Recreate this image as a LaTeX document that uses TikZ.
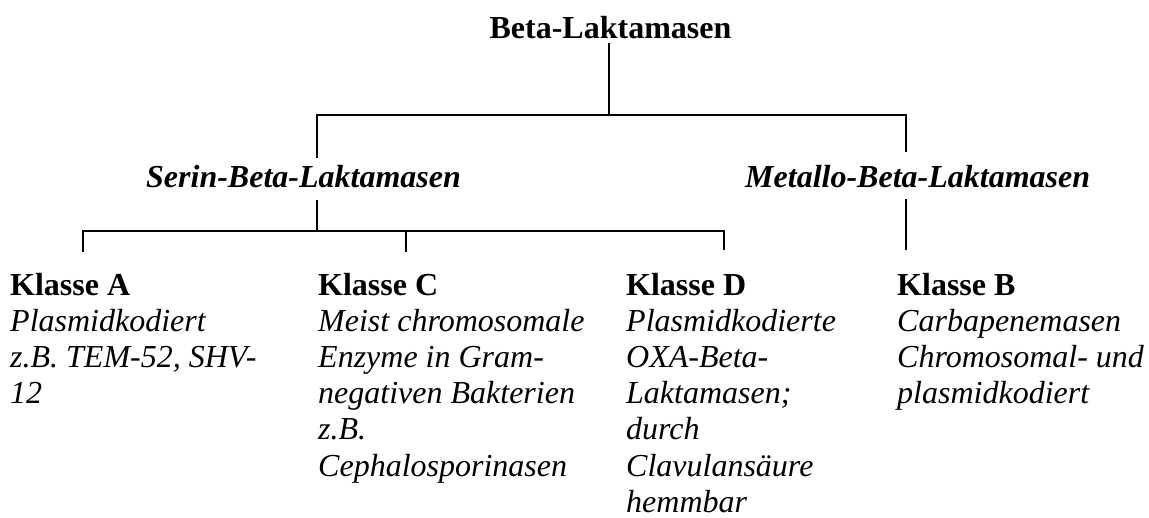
\documentclass[tikz,border=0pt]{standalone}
\usepackage{fontspec}
\setmainfont{Liberation Serif}
\newcommand\dfont{\fontsize{32}{36.2}\selectfont}
\newcommand\klasse[1]{\textbf{#1}}
\newcommand\zeile[1]{\textit{#1}}
\begin{document}
\begin{tikzpicture}[x=1pt,y=-1pt,
  conn/.style={line width=1.8pt, black},
  lbl/.style={inner sep=0pt, font=\dfont},
  head/.style={lbl, font=\dfont\bfseries},
  sub/.style={lbl, font=\dfont\bfseries\itshape, anchor=base west},
  body/.style={lbl, anchor=base west}]
\useasboundingbox (0,0) rectangle (1149,517);
\fill[white] (0,0) rectangle (1149,517);

% nodes
\node[head, anchor=base] (root) at (610.5,38) {Beta-Laktamasen};
\node[sub] (serin) at (146,187) {Serin-Beta-Laktamasen};
\node[sub] (metallo) at (745,187) {Metallo-Beta-Laktamasen};

\node[body] (ka) at (10,295) {\dfont\begin{tabular}[t]{@{}l@{}}
\klasse{Klasse A}\\ \zeile{Plasmidkodiert}\\ \zeile{z.B. TEM-52, SHV-}\\ \zeile{12}\end{tabular}};
\node[body] (kc) at (318,295) {\dfont\begin{tabular}[t]{@{}l@{}}
\klasse{Klasse C}\\ \zeile{Meist chromosomale}\\ \zeile{Enzyme in Gram-}\\ \zeile{negativen Bakterien}\\ \zeile{z.B.}\\ \zeile{Cephalosporinasen}\end{tabular}};
\node[body] (kd) at (626,295) {\dfont\begin{tabular}[t]{@{}l@{}}
\klasse{Klasse D}\\ \zeile{Plasmidkodierte}\\ \zeile{OXA-Beta-}\\ \zeile{Laktamasen;}\\ \zeile{durch}\\ \zeile{Clavulansäure}\\ \zeile{hemmbar}\end{tabular}};
\node[body] (kb) at (897,295) {\dfont\begin{tabular}[t]{@{}l@{}}
\klasse{Klasse B}\\ \zeile{Carbapenemasen}\\ \zeile{Chromosomal- und}\\ \zeile{plasmidkodiert}\end{tabular}};

% connector end points
\coordinate (rootstem) at (609,43);
\coordinate (topbar) at (609,115);
\coordinate (ul) at (317,115);
\coordinate (ur) at (906,115);
\coordinate (serintop) at (317,158);
\coordinate (metallotop) at (906,152);
\coordinate (serinbot) at (317,200);
\coordinate (lbar) at (317,231);
\coordinate (al) at (83,231);
\coordinate (ab) at (83,252);
\coordinate (cl) at (406,231);
\coordinate (cb) at (406,252);
\coordinate (dl) at (724,231);
\coordinate (db) at (724,250);
\coordinate (mbot) at (906,199);
\coordinate (bb) at (906,250);

% connectors
\draw[conn] (rootstem) -- (topbar);
\draw[conn] (serintop) -- (ul) -- (ur) -- (metallotop);
\draw[conn] (serinbot) -- (lbar);
\draw[conn] (ab) -- (al) -- (dl) -- (db);
\draw[conn] (cl) -- (cb);
\draw[conn] (mbot) -- (bb);
\end{tikzpicture}
\end{document}
